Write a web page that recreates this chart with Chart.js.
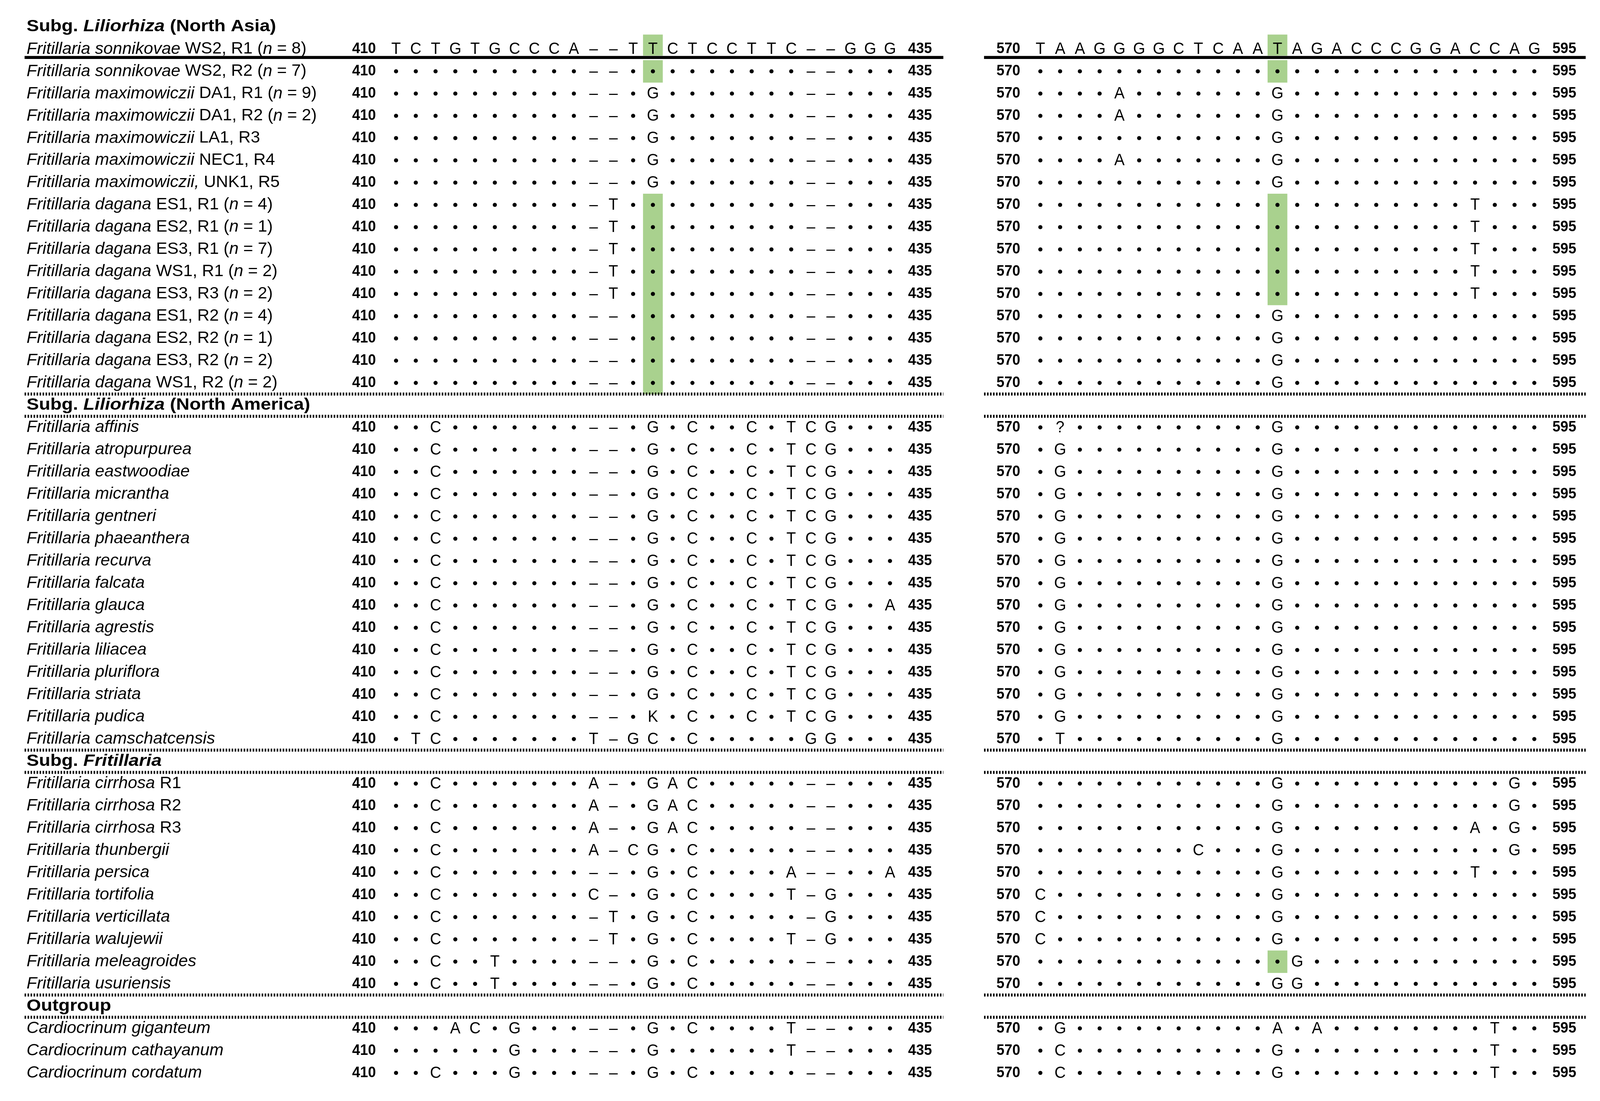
<!DOCTYPE html>
<html>
<head>
<meta charset="utf-8">
<script src="https://cdn.jsdelivr.net/npm/chart.js@4.4.1/dist/chart.umd.min.js"></script>
<style>
  html, body { margin: 0; padding: 0; background: #fff; overflow: hidden; }
  #wrap { width: 100vw; height: 100vh; position: relative; }
</style>
</head>
<body>
<div id="wrap"><canvas id="aln"></canvas></div>
<script>
// group titles (*...* = italic)
var groupTitles = ['Subg. *Liliorhiza* (North Asia)', 'Subg. *Liliorhiza* (North America)', 'Subg. *Fritillaria*', 'Outgroup'];
var groupSizes = [15, 15, 10, 3];

// block start / end position labels
var blockStart = ['410', '570'];
var blockEnd = ['435', '595'];

// reference sequence
var refLabel = '*Fritillaria sonnikovae* WS2, R1 (*n* = 8)';
var ref410 = 'TCTGTGCCCA -- TT CTCCTTC -- GGG';
var ref570 = 'TAAGGGGCTCAA T AGACCCGGACCAG';

var taxa = [
  '*Fritillaria sonnikovae* WS2, R2 (*n* = 7)',
  '*Fritillaria maximowiczii* DA1, R1 (*n* = 9)',
  '*Fritillaria maximowiczii* DA1, R2 (*n* = 2)',
  '*Fritillaria maximowiczii* LA1, R3',
  '*Fritillaria maximowiczii* NEC1, R4',
  '*Fritillaria maximowiczii,* UNK1, R5',
  '*Fritillaria dagana* ES1, R1 (*n* = 4)',
  '*Fritillaria dagana* ES2, R1 (*n* = 1)',
  '*Fritillaria dagana* ES3, R1 (*n* = 7)',
  '*Fritillaria dagana* WS1, R1 (*n* = 2)',
  '*Fritillaria dagana* ES3, R3 (*n* = 2)',
  '*Fritillaria dagana* ES1, R2 (*n* = 4)',
  '*Fritillaria dagana* ES2, R2 (*n* = 1)',
  '*Fritillaria dagana* ES3, R2 (*n* = 2)',
  '*Fritillaria dagana* WS1, R2 (*n* = 2)',
  '*Fritillaria affinis*',
  '*Fritillaria atropurpurea*',
  '*Fritillaria eastwoodiae*',
  '*Fritillaria micrantha*',
  '*Fritillaria gentneri*',
  '*Fritillaria phaeanthera*',
  '*Fritillaria recurva*',
  '*Fritillaria falcata*',
  '*Fritillaria glauca*',
  '*Fritillaria agrestis*',
  '*Fritillaria liliacea*',
  '*Fritillaria pluriflora*',
  '*Fritillaria striata*',
  '*Fritillaria pudica*',
  '*Fritillaria camschatcensis*',
  '*Fritillaria cirrhosa* R1',
  '*Fritillaria cirrhosa* R2',
  '*Fritillaria cirrhosa* R3',
  '*Fritillaria thunbergii*',
  '*Fritillaria persica*',
  '*Fritillaria tortifolia*',
  '*Fritillaria verticillata*',
  '*Fritillaria walujewii*',
  '*Fritillaria meleagroides*',
  '*Fritillaria usuriensis*',
  '*Cardiocrinum giganteum*',
  '*Cardiocrinum cathayanum*',
  '*Cardiocrinum cordatum*'
];

// positions 410-435 ("." identical to reference, "-" gap)
var seq410 = [
  '.......... -- .. ....... -- ...',
  '.......... -- .G ....... -- ...',
  '.......... -- .G ....... -- ...',
  '.......... -- .G ....... -- ...',
  '.......... -- .G ....... -- ...',
  '.......... -- .G ....... -- ...',
  '.......... -T .. ....... -- ...',
  '.......... -T .. ....... -- ...',
  '.......... -T .. ....... -- ...',
  '.......... -T .. ....... -- ...',
  '.......... -T .. ....... -- ...',
  '.......... -- .. ....... -- ...',
  '.......... -- .. ....... -- ...',
  '.......... -- .. ....... -- ...',
  '.......... -- .. ....... -- ...',
  '..C....... -- .G .C..C.T CG ...',
  '..C....... -- .G .C..C.T CG ...',
  '..C....... -- .G .C..C.T CG ...',
  '..C....... -- .G .C..C.T CG ...',
  '..C....... -- .G .C..C.T CG ...',
  '..C....... -- .G .C..C.T CG ...',
  '..C....... -- .G .C..C.T CG ...',
  '..C....... -- .G .C..C.T CG ...',
  '..C....... -- .G .C..C.T CG ..A',
  '..C....... -- .G .C..C.T CG ...',
  '..C....... -- .G .C..C.T CG ...',
  '..C....... -- .G .C..C.T CG ...',
  '..C....... -- .G .C..C.T CG ...',
  '..C....... -- .K .C..C.T CG ...',
  '.TC....... T- GC .C..... GG ...',
  '..C....... A- .G AC..... -- ...',
  '..C....... A- .G AC..... -- ...',
  '..C....... A- .G AC..... -- ...',
  '..C....... A- CG .C..... -- ...',
  '..C....... -- .G .C....A -- ..A',
  '..C....... C- .G .C....T -G ...',
  '..C....... -T .G .C..... -G ...',
  '..C....... -T .G .C....T -G ...',
  '..C..T.... -- .G .C..... -- ...',
  '..C..T.... -- .G .C..... -- ...',
  '...AC.G... -- .G .C....T -- ...',
  '......G... -- .G ......T -- ...',
  '..C...G... -- .G .C..... -- ...'
];

// positions 570-595
var seq570 = [
  '............ . .............',
  '....A....... G .............',
  '....A....... G .............',
  '............ G .............',
  '....A....... G .............',
  '............ G .............',
  '............ . .........T...',
  '............ . .........T...',
  '............ . .........T...',
  '............ . .........T...',
  '............ . .........T...',
  '............ G .............',
  '............ G .............',
  '............ G .............',
  '............ G .............',
  '.?.......... G .............',
  '.G.......... G .............',
  '.G.......... G .............',
  '.G.......... G .............',
  '.G.......... G .............',
  '.G.......... G .............',
  '.G.......... G .............',
  '.G.......... G .............',
  '.G.......... G .............',
  '.G.......... G .............',
  '.G.......... G .............',
  '.G.......... G .............',
  '.G.......... G .............',
  '.G.......... G .............',
  '.T.......... G .............',
  '............ G ...........G.',
  '............ G ...........G.',
  '............ G .........A.G.',
  '........C... G ...........G.',
  '............ G .........T...',
  'C........... G .............',
  'C........... G .............',
  'C........... G .............',
  '............ . G............',
  '............ G G............',
  '.G.......... A .A........T..',
  '.C.......... G ..........T..',
  '.C.......... G ..........T..'
];

// highlighted site in each block (column) and the taxa rows shaded there
var hlColumn = [13, 12];
var hl410 = [0, 6, 7, 8, 9, 10, 11, 12, 13, 14];
var hl570 = [0, 6, 7, 8, 9, 10, 38];

// ---- layout ----
var BLOCK_X = [0, 32.61];
var LABEL_X = -18.7;
var SANS = "'Liberation Sans', Arial, sans-serif";
var GREEN = '#a9d18e';
var DESIGN_W = 4265;

// row slots: header, (reference), taxa...
var headerSlots = [];
var rowSlots = [];
var slot = 0, t = 0;
groupSizes.forEach(function(n, g) {
  headerSlots.push(slot++);
  if (g === 0) slot++; // reference row
  for (var k = 0; k < n; k++) rowSlots[t++] = slot++;
});
var REF_SLOT = 1;

var clean = function(s) { return s.replace(/ /g, ''); };

var dotData = [];
var baseData = [];
var addRow = function(s, y) {
  [s[0], s[1]].forEach(function(str, b) {
    clean(str).split('').forEach(function(ch, i) {
      var p = { x: BLOCK_X[b] + i, y: y, ch: ch };
      if (ch === '.') dotData.push(p); else baseData.push(p);
    });
  });
};
addRow([ref410, ref570], REF_SLOT);
taxa.forEach(function(lab, i) { addRow([seq410[i], seq570[i]], rowSlots[i]); });

// draw text with horizontal squeeze, rich (*italic*) segments
var drawRich = function(ctx, str, x, y, size, bold, sx) {
  var parts = str.split('*');
  ctx.save();
  ctx.translate(x, y);
  ctx.scale(sx, 1);
  ctx.textAlign = 'left';
  ctx.textBaseline = 'middle';
  ctx.fillStyle = '#000';
  var cx = 0;
  parts.forEach(function(p, i) {
    ctx.font = (i % 2 ? 'italic ' : '') + (bold ? 'bold ' : '') + size + 'px ' + SANS;
    ctx.fillText(p, cx, 0);
    cx += ctx.measureText(p).width;
  });
  ctx.restore();
};
var drawPlain = function(ctx, str, x, y, font, sx) {
  ctx.save();
  ctx.translate(x, y);
  ctx.scale(sx, 1);
  ctx.font = font;
  ctx.textAlign = 'center';
  ctx.textBaseline = 'middle';
  ctx.fillStyle = '#000';
  ctx.fillText(str, 0, 0);
  ctx.restore();
};

var alignmentPlugin = {
  id: 'alignment',
  beforeDatasetsDraw: function(chart) {
    var ctx = chart.ctx, xs = chart.scales.x, ys = chart.scales.y;
    var k = chart.width / DESIGN_W;
    var hx = function(v) { return xs.getPixelForValue(v); };
    var hy = function(v) { return ys.getPixelForValue(v); };
    ctx.save();
    // shaded site
    ctx.fillStyle = GREEN;
    [hl410, hl570].forEach(function(rows, b) {
      var c = BLOCK_X[b] + hlColumn[b];
      ctx.fillRect(hx(c - 0.5), hy(REF_SLOT - 0.65), hx(c + 0.5) - hx(c - 0.5), hy(REF_SLOT + 0.3) - hy(REF_SLOT - 0.65));
      rows.forEach(function(r) {
        var s = rowSlots[r];
        ctx.fillRect(hx(c - 0.5), hy(s - 0.5), hx(c + 0.5) - hx(c - 0.5), hy(s + 0.5) - hy(s - 0.5) + 0.5);
      });
    });
    // rules
    var spans = [[LABEL_X - 0.1, 27.7], [BLOCK_X[1] - 2.85, BLOCK_X[1] + 27.6]];
    ctx.strokeStyle = '#000';
    ctx.lineWidth = 8 * k;
    spans.forEach(function(sp) {
      ctx.beginPath();
      ctx.moveTo(hx(sp[0]), hy(REF_SLOT + 0.38));
      ctx.lineTo(hx(sp[1]), hy(REF_SLOT + 0.38));
      ctx.stroke();
    });
    ctx.setLineDash([4 * k, 4 * k]);
    headerSlots.slice(1).forEach(function(h) {
      [h - 0.5, h + 0.5].forEach(function(yv) {
        spans.forEach(function(sp) {
          ctx.beginPath();
          ctx.moveTo(hx(sp[0]), hy(yv));
          ctx.lineTo(hx(sp[1]), hy(yv));
          ctx.stroke();
        });
      });
    });
    ctx.restore();
  },
  afterDatasetsDraw: function(chart) {
    var ctx = chart.ctx, xs = chart.scales.x, ys = chart.scales.y;
    var k = chart.width / DESIGN_W;
    var px = function(n) { return (n * k).toFixed(2) + 'px '; };
    // bases and gaps at their point positions
    var meta = chart.getDatasetMeta(1);
    var ds = chart.data.datasets[1].data;
    meta.data.forEach(function(el, i) {
      var ch = ds[i].ch === '-' ? '\u2013' : ds[i].ch;
      drawPlain(ctx, ch, el.x, el.y + k, px(45) + SANS, 0.92);
    });
    // group titles
    groupTitles.forEach(function(g, i) {
      drawRich(ctx, g, xs.getPixelForValue(LABEL_X), ys.getPixelForValue(headerSlots[i]), 45 * k, true, 1.1);
    });
    // taxon labels and position numbers
    var rows = [{ lab: refLabel, s: REF_SLOT }].concat(taxa.map(function(l, i) { return { lab: l, s: rowSlots[i] }; }));
    rows.forEach(function(r) {
      var y = ys.getPixelForValue(r.s);
      drawRich(ctx, r.lab, xs.getPixelForValue(LABEL_X), y, 45 * k, false, 1.0);
      [0, 1].forEach(function(b) {
        drawPlain(ctx, blockStart[b], xs.getPixelForValue(BLOCK_X[b] - 1.62), y, 'bold ' + px(40) + SANS, 0.95);
        drawPlain(ctx, blockEnd[b], xs.getPixelForValue(BLOCK_X[b] + 26.52), y, 'bold ' + px(40) + SANS, 0.95);
      });
    });
  }
};

new Chart(document.getElementById('aln'), {
  type: 'scatter',
  data: {
    datasets: [
      { label: 'identical', data: dotData, pointStyle: 'circle', pointBackgroundColor: '#000', pointBorderWidth: 0,
        pointRadius: function(c) { return 5.5 * c.chart.width / DESIGN_W; } },
      { label: 'substitution', data: baseData, pointRadius: 0, pointHoverRadius: 0 }
    ]
  },
  options: {
    responsive: true,
    maintainAspectRatio: false,
    animation: false,
    events: [],
    layout: { padding: 0 },
    plugins: { legend: { display: false }, tooltip: { enabled: false } },
    scales: {
      x: { type: 'linear', min: -19.94, max: 60.83, display: false },
      y: { type: 'linear', min: -1.11, max: 48.17, reverse: true, display: false }
    }
  },
  plugins: [alignmentPlugin]
});
</script>
</body>
</html>
